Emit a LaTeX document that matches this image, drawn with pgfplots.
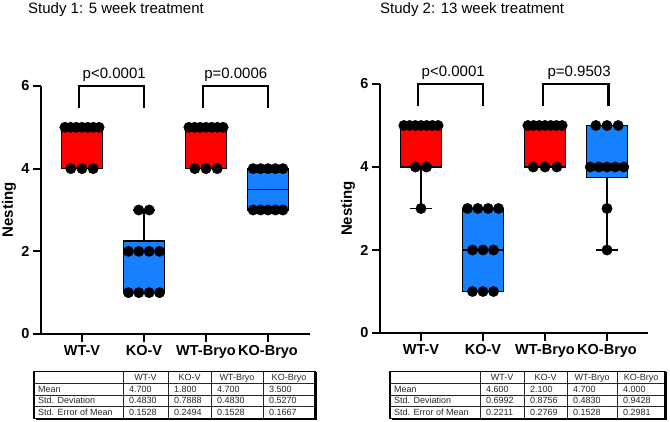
\documentclass[border=0pt]{standalone}
\usepackage{pgfplots}
\pgfplotsset{compat=1.18}
\usepgfplotslibrary{statistics}
\usepackage{fontspec}
\setmainfont{Liberation Sans}
\definecolor{boxred}{RGB}{255,0,0}
\definecolor{boxblue}{RGB}{22,128,255}
\definecolor{tabtext}{RGB}{40,40,40}

\pgfplotsset{nest/.style={
  scale only axis, anchor=south west,
  ymin=0, ymax=6, xmin=-0.661,
  axis x line=bottom, axis y line=left,
  axis line style={-, line width=2pt},
  tick style={black, line width=2pt},
  major tick length=8pt, tick align=outside,
  xtick={0,1,2,3}, xticklabels={WT-V,KO-V,WT-Bryo,KO-Bryo},
  ytick={0,2,4,6},
  /pgf/number format/assume math mode=true,
  ticklabel style={font=\fontsize{14.5}{16}\bfseries\selectfont},
  ylabel={Nesting},
  every axis y label/.style={at={(axis description cs:-0.119,0.5)}, rotate=90, anchor=center,
     font=\fontsize{15}{18}\bfseries\selectfont},
  clip=false,
  boxplot/draw direction=y,
  bx/.style={boxplot prepared={draw position=##1, box extend=0.66, whisker extend=0.34}},
  dots/.style={only marks, mark=*, mark size=5.2pt, black},
  brk/.style={black, line width=2.5pt},
}}

\newcommand\tablegrid[6]{%
  \draw[line width=0.7pt, black!85] (#2,50.5)--(#2,3.5) (#3,50.5)--(#3,3.5) (#4,50.5)--(#4,3.5) (#5,50.5)--(#5,3.5)
     (#1,38.5)--(#6,38.5) (#1,27)--(#6,27) (#1,15.5)--(#6,15.5);
  \draw[line width=1.4pt] (#1,50.5) rectangle (#6,3.5);
  \draw[line width=1pt] (#1+1.5,2.3)--(#6+1.2,2.3)--(#6+1.2,49.5);
  \begin{scope}[every node/.style={inner sep=0pt, text=tabtext, font=\fontsize{9}{10}\selectfont}]
  \node[anchor=base west] at (#1+4,29.6) {Mean};
  \node[anchor=base west] at (#1+4,18.1) {Std. Deviation};
  \node[anchor=base west] at (#1+4,6.1) {Std. Error of Mean};
  \node[anchor=base] at ({(#2+#3)/2},41.1) {WT-V};
  \node[anchor=base] at ({(#3+#4)/2},41.1) {KO-V};
  \node[anchor=base] at ({(#4+#5)/2},41.1) {WT-Bryo};
  \node[anchor=base] at ({(#5+#6)/2},41.1) {KO-Bryo};
  \end{scope}
}
\newcommand\tablerow[9]{%
  \begin{scope}[every node/.style={inner sep=0pt, text=tabtext, font=\fontsize{9}{10}\selectfont, anchor=base west}]
  \node at (#2+6,#1) {#6};
  \node at (#3+6,#1) {#7};
  \node at (#4+6,#1) {#8};
  \node at (#5+6,#1) {#9};
  \end{scope}
}

\begin{document}
\begin{tikzpicture}[x=1pt,y=1pt]
\path (0,0) rectangle (670,422);

% ---------- Study 1 ----------
\node[anchor=base west, inner sep=0pt, font=\fontsize{15}{18}\selectfont] at (28,408.5) {Study 1: 5 week treatment};
\begin{axis}[nest, at={(41pt,88pt)}, width=269pt, height=248pt, xmax=3.677]
\addplot[bx=0, boxplot prepared={lower whisker=4, lower quartile=4, median=5, upper quartile=5, upper whisker=5}, fill=boxred, draw=black, line width=1.5pt] coordinates {};
\addplot[bx=1, boxplot prepared={lower whisker=1, lower quartile=1, median=2, upper quartile=2.25, upper whisker=3}, fill=boxblue, draw=black, line width=1.5pt] coordinates {};
\addplot[bx=2, boxplot prepared={lower whisker=4, lower quartile=4, median=5, upper quartile=5, upper whisker=5}, fill=boxred, draw=black, line width=1.5pt] coordinates {};
\addplot[bx=3, boxplot prepared={lower whisker=3, lower quartile=3, median=3.5, upper quartile=4, upper whisker=4}, fill=boxblue, draw=black, line width=1.5pt] coordinates {};
\addplot[dots] coordinates {(-0.276,5)(-0.184,5)(-0.092,5)(0,5)(0.092,5)(0.184,5)(0.276,5)(-0.18,4)(0,4)(0.18,4)};
\addplot[dots] coordinates {(0.915,3)(1.085,3)(0.75,2)(0.917,2)(1.083,2)(1.25,2)(0.75,1)(0.917,1)(1.083,1)(1.25,1)};
\addplot[dots] coordinates {(1.724,5)(1.816,5)(1.908,5)(2,5)(2.092,5)(2.184,5)(2.276,5)(1.82,4)(2,4)(2.18,4)};
\addplot[dots] coordinates {(2.76,4)(2.88,4)(3,4)(3.12,4)(3.24,4)(2.76,3)(2.88,3)(3,3)(3.12,3)(3.24,3)};
\addplot[brk] coordinates {(-0.05,5.47)(-0.05,6)(1,6)(1,5.47)};
\addplot[brk] coordinates {(1.95,5.47)(1.95,6)(3,6)(3,5.47)};
\node[anchor=base, inner sep=0pt, font=\fontsize{15}{18}\selectfont] at (axis cs:0.52,6.19) {p<0.0001};
\node[anchor=base, inner sep=0pt, font=\fontsize{15}{18}\selectfont] at (axis cs:2.48,6.19) {p=0.0006};
\end{axis}

% ---------- Study 2 ----------
\node[anchor=base west, inner sep=0pt, font=\fontsize{15}{18}\selectfont] at (380,408.5) {Study 2: 13 week treatment};
\begin{axis}[nest, at={(380pt,89pt)}, width=268pt, height=249pt, xmax=3.661]
\addplot[bx=0, boxplot prepared={lower whisker=3, lower quartile=4, median=5, upper quartile=5, upper whisker=5}, fill=boxred, draw=black, line width=1.5pt] coordinates {};
\addplot[bx=1, boxplot prepared={lower whisker=1, lower quartile=1, median=2, upper quartile=3, upper whisker=3}, fill=boxblue, draw=black, line width=1.5pt] coordinates {};
\addplot[bx=2, boxplot prepared={lower whisker=4, lower quartile=4, median=5, upper quartile=5, upper whisker=5}, fill=boxred, draw=black, line width=1.5pt] coordinates {};
\addplot[bx=3, boxplot prepared={lower whisker=2, lower quartile=3.75, median=4, upper quartile=5, upper whisker=5}, fill=boxblue, draw=black, line width=1.5pt] coordinates {};
\addplot[dots] coordinates {(-0.276,5)(-0.184,5)(-0.092,5)(0,5)(0.092,5)(0.184,5)(0.276,5)(-0.09,4)(0.09,4)(0,3)};
\addplot[dots] coordinates {(0.75,3)(0.917,3)(1.083,3)(1.25,3)(0.83,2)(1,2)(1.17,2)(0.83,1)(1,1)(1.17,1)};
\addplot[dots] coordinates {(1.724,5)(1.816,5)(1.908,5)(2,5)(2.092,5)(2.184,5)(2.276,5)(1.81,4)(2,4)(2.19,4)};
\addplot[dots] coordinates {(2.82,5)(3,5)(3.18,5)(2.73,4)(2.866,4)(3,4)(3.134,4)(3.27,4)(3,3)(3,2)};
\addplot[brk] coordinates {(-0.05,5.47)(-0.05,6)(1,6)(1,5.47)};
\addplot[brk] coordinates {(1.97,5.47)(1.97,6)(3.02,6)(3.02,5.47)};
\node[anchor=base, inner sep=0pt, font=\fontsize{15}{18}\selectfont] at (axis cs:0.52,6.19) {p<0.0001};
\node[anchor=base, inner sep=0pt, font=\fontsize{15}{18}\selectfont] at (axis cs:2.55,6.19) {p=0.9503};
\end{axis}

% ---------- tables ----------
\tablegrid{34}{123}{168}{211}{263}{315}
\tablerow{29.6}{123}{168}{211}{263}{4.700}{1.800}{4.700}{3.500}
\tablerow{18.1}{123}{168}{211}{263}{0.4830}{0.7888}{0.4830}{0.5270}
\tablerow{6.1}{123}{168}{211}{263}{0.1528}{0.2494}{0.1528}{0.1667}

\tablegrid{390}{480}{524}{567}{617}{665}
\tablerow{29.6}{480}{524}{567}{617}{4.600}{2.100}{4.700}{4.000}
\tablerow{18.1}{480}{524}{567}{617}{0.6992}{0.8756}{0.4830}{0.9428}
\tablerow{6.1}{480}{524}{567}{617}{0.2211}{0.2769}{0.1528}{0.2981}

\pgfresetboundingbox
\path (0,0) rectangle (670,422);
\end{tikzpicture}
\end{document}
